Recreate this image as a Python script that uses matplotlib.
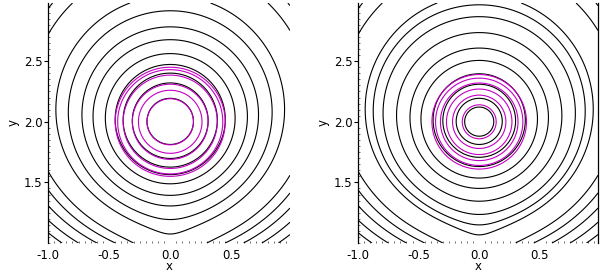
import numpy as np
import matplotlib

matplotlib.use("Agg")
import matplotlib.pyplot as plt  # noqa: E402

# axis ticks
x_ticks = [-1.0, -0.5, 0.0, 0.5]
y_ticks = [1.5, 2.0, 2.5]

# closed black contours: radius where they cross y=2 left of the centre
black_left = [0.19, 0.31, 0.385, 0.45, 0.53, 0.63, 0.72, 0.83, 0.93]
black_right = [0.12, 0.19, 0.30, 0.38, 0.48, 0.57, 0.68, 0.79, 0.87, 0.935]
# open black contours: where they cut the bottom edge (y=1)
bottom_cuts = [-0.3, -0.45, -0.6, -0.75, -0.885, -1.0]
# magenta rings (radius)
magenta_left = [0.19, 0.26, 0.31, 0.385, 0.43, 0.45]
magenta_right = [0.14, 0.22, 0.27, 0.32, 0.36, 0.39]

# flux rope at (0,2), image current below, small dipole under the X-point
YR, YI, YD, M = 2.0, -6.0, 0.75, -0.0487


def flux(x, y):
    r1 = np.hypot(x, y - YR)
    ri = np.hypot(x, y - YI)
    dip = M * (y - YD) / (x ** 2 + (y - YD) ** 2)
    return np.log(r1) - np.log(ri) + dip


def panel(ax, black_r, magenta_r, right_edge=False):
    xs = np.linspace(-1.0, 0.98, 500)
    ys = np.linspace(1.0, 2.98, 500)
    xx, yy = np.meshgrid(xs, ys)
    a = flux(xx, yy)
    lev = list(flux(-np.array(black_r), YR)) + list(flux(np.array(bottom_cuts), 1.0))
    ax.contour(xx, yy, a, levels=sorted(lev), colors="black",
               linewidths=0.8, linestyles="solid")
    rr = np.hypot(xx, yy - YR)
    ax.contour(xx, yy, rr, levels=sorted(magenta_r), colors="#c400c4",
               linewidths=0.8, linestyles="solid")

    ax.set_xlim(-1.0, 0.98)
    ax.set_ylim(1.0, 2.98)
    ax.set_xticks(x_ticks)
    ax.set_xticklabels([f"{v:.1f}" for v in x_ticks])
    ax.set_yticks(y_ticks)
    ax.set_yticklabels([f"{v:.1f}" for v in y_ticks])
    ax.set_xticks(np.arange(-1.0, 1.0, 0.05), minor=True)
    ax.set_yticks(np.arange(1.0, 3.0, 0.05), minor=True)
    for s in ("top", "bottom"):
        ax.spines[s].set_visible(False)
    ax.spines["right"].set_visible(right_edge)
    ax.spines["right"].set_linewidth(0.9)
    ax.spines["left"].set_linewidth(0.9)
    ax.tick_params(which="major", length=3, width=0.8, labelsize=8.5, pad=1,
                   colors="black")
    ax.tick_params(axis="x", which="major", length=0, pad=4)
    ax.tick_params(which="minor", direction="in", length=1.5, width=0.6,
                   colors="#555555")
    ax.set_xlabel("x", fontsize=8.5, labelpad=-1)
    ax.set_ylabel("y", fontsize=8.5, labelpad=3)


fig = plt.figure(figsize=(6.0, 2.72), dpi=100)
ax1 = fig.add_axes([48 / 600, 29 / 272, 242 / 600, 240 / 272])
ax2 = fig.add_axes([358 / 600, 29 / 272, 240 / 600, 240 / 272])
panel(ax1, black_left, magenta_left)
panel(ax2, black_right, magenta_right, right_edge=True)
fig.savefig("out.png", dpi=100)
